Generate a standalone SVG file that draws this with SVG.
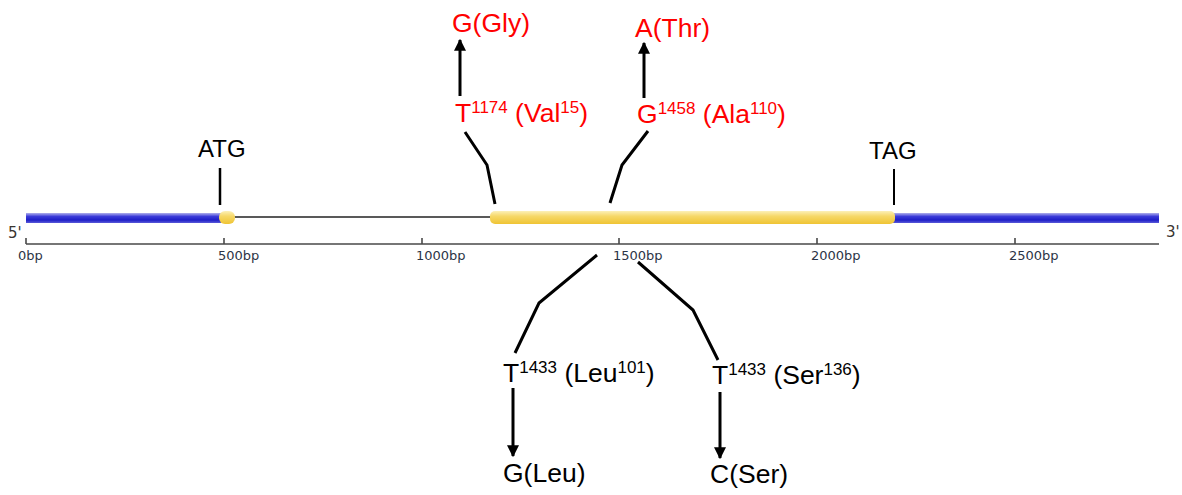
<svg xmlns="http://www.w3.org/2000/svg" width="1182" height="495" viewBox="0 0 1182 495">
<defs>
<linearGradient id="gBlue" x1="0" y1="0" x2="0" y2="1">
<stop offset="0" stop-color="#b0b0ec"/>
<stop offset="0.35" stop-color="#3a3ad8"/>
<stop offset="0.7" stop-color="#1e1ec8"/>
<stop offset="1" stop-color="#5a5ad8"/>
</linearGradient>
<linearGradient id="gYellow" x1="0" y1="0" x2="0" y2="1">
<stop offset="0" stop-color="#fcf0b8"/>
<stop offset="0.4" stop-color="#f6d868"/>
<stop offset="1" stop-color="#efc434"/>
</linearGradient>
<marker id="ah" viewBox="0 0 10 10" refX="9" refY="5" markerWidth="4" markerHeight="4" markerUnits="strokeWidth" orient="auto">
<path d="M0,0 L10,5 L0,10 z" fill="#000"/>
</marker>
<style>
.lbl{font-family:"Liberation Sans",Arial,sans-serif;font-size:26.5px;}
.red{fill:#ff0000;}
.blk{fill:#000;}
.sup{font-size:17px;}
.site{font-family:"Liberation Sans",Arial,sans-serif;font-size:24px;fill:#000;}
.tick{font-family:"DejaVu Sans",Verdana,sans-serif;font-size:13px;fill:#2c3446;}
.end{font-family:"DejaVu Sans",Verdana,sans-serif;font-size:15px;fill:#3a3430;}
.conn{fill:none;stroke:#000;stroke-width:3;stroke-linejoin:miter;}
.arr{fill:none;stroke:#000;stroke-width:3;marker-end:url(#ah);}
.axis{fill:none;stroke:#4a4a4a;stroke-width:1.6;}
</style>
</defs>
<rect width="1182" height="495" fill="#fff"/>

<g id="gene">
<line x1="234" y1="217" x2="492" y2="217" stroke="#222" stroke-width="1.5"/>
<rect x="26" y="213" width="195" height="10" fill="url(#gBlue)"/>
<rect x="893" y="213" width="266" height="10" fill="url(#gBlue)"/>
<rect x="219" y="211" width="16" height="13" rx="6" fill="url(#gYellow)"/>
<rect x="490" y="211" width="405" height="13" rx="5" fill="url(#gYellow)"/>
</g>

<g id="axis">
<path class="axis" d="M26,244 H1159 M26,238 V244 M224,238 V244 M422,238 V244 M619,238 V244 M817,238 V244 M1015,238 V244"/>
<text class="end" x="8" y="238">5'</text>
<text class="end" x="1166" y="237">3'</text>
<text class="tick" x="18" y="260">0bp</text>
<text class="tick" x="218" y="260">500bp</text>
<text class="tick" x="416" y="260">1000bp</text>
<text class="tick" x="613" y="260">1500bp</text>
<text class="tick" x="811" y="260">2000bp</text>
<text class="tick" x="1009" y="260">2500bp</text>
</g>

<g id="connectors">
<line x1="220" y1="168" x2="220" y2="205" stroke="#000" stroke-width="2.5"/>
<line x1="894" y1="169" x2="894" y2="205" stroke="#000" stroke-width="2"/>
<polyline class="conn" points="465,132 487,165 495,204"/>
<polyline class="conn" points="648,131 622,165 610,203"/>
<polyline class="conn" points="597,255 539,303 515,353"/>
<polyline class="conn" points="638,262 693,310 718,360"/>
<line class="arr" x1="460" y1="96" x2="460" y2="40"/>
<line class="arr" x1="644" y1="98" x2="644" y2="43"/>
<line class="arr" x1="513" y1="388" x2="513" y2="456"/>
<line class="arr" x1="720" y1="392" x2="720" y2="458"/>
</g>

<g id="atg"><text class="site" x="198" y="157">ATG</text></g>
<g id="tag"><text class="site" x="869" y="159">TAG</text></g>

<g id="t1174"><text class="lbl red" x="455" y="122">T<tspan class="sup" dy="-9">1174</tspan><tspan dy="9"> (Val</tspan><tspan class="sup" dy="-9">15</tspan><tspan dy="9">)</tspan></text></g>
<g id="gly"><text class="lbl red" x="452" y="32">G(Gly)</text></g>

<g id="g1458"><text class="lbl red" x="637" y="123">G<tspan class="sup" dy="-9">1458</tspan><tspan dy="9"> (Ala</tspan><tspan class="sup" dy="-9">110</tspan><tspan dy="9">)</tspan></text></g>
<g id="thr"><text class="lbl red" x="635" y="37">A(Thr)</text></g>

<g id="t1433leu"><text class="lbl blk" x="503" y="382">T<tspan class="sup" dy="-9">1433</tspan><tspan dy="9"> (Leu</tspan><tspan class="sup" dy="-9">101</tspan><tspan dy="9">)</tspan></text></g>
<g id="gleu"><text class="lbl blk" x="503" y="482">G(Leu)</text></g>

<g id="t1433ser"><text class="lbl blk" x="712" y="384">T<tspan class="sup" dy="-9">1433</tspan><tspan dy="9"> (Ser</tspan><tspan class="sup" dy="-9">136</tspan><tspan dy="9">)</tspan></text></g>
<g id="cser"><text class="lbl blk" x="710" y="483">C(Ser)</text></g>
</svg>
